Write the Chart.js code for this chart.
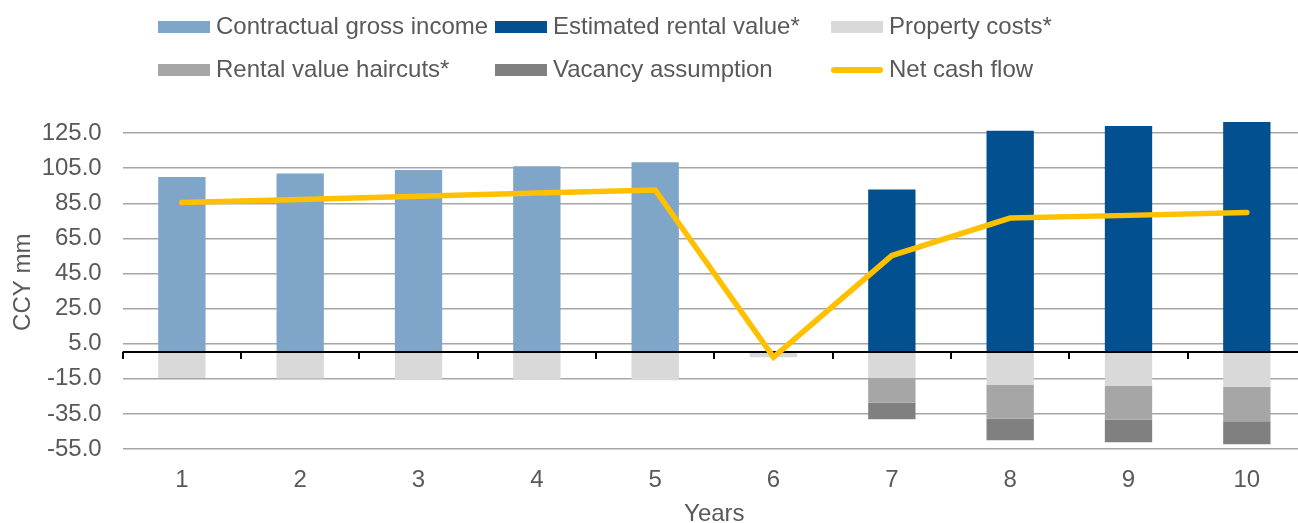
<!DOCTYPE html>
<html>
<head>
<meta charset="utf-8">
<script src="https://cdn.jsdelivr.net/npm/chart.js@4"></script>
<style>
  body { margin: 0; overflow: hidden; background: #fff; font-family: "Liberation Sans", Arial, sans-serif; }
  #wrap { position: absolute; left: 0; top: 0; width: 1306px; height: 523px; }
  #legend { position: absolute; left: 158px; top: 11px; display: grid;
            grid-template-columns: 337px 336px auto; grid-auto-rows: 43.5px; }
  .item { display: flex; align-items: center; height: 29px; font-size: 24px; color: #595959; white-space: nowrap; }
  .swatch { width: 52px; height: 12px; margin-right: 6px; margin-top: 2px; }
  .swatch.line { height: 5.5px; border-radius: 3px; }
</style>
</head>
<body>
<div id="wrap"><canvas id="chart"></canvas></div>
<div id="legend"></div>
<script>
const years = ['1', '2', '3', '4', '5', '6', '7', '8', '9', '10'];
const contractualGrossIncome = [100.0, 102.0, 104.0, 106.1, 108.3, null, null, null, null, null];
const estimatedRentalValue = [null, null, null, null, null, null, 92.8, 126.3, 129.0, 131.3];
const propertyCosts = [-14.6, -14.9, -15.2, -15.5, -15.8, -2.7, -14.6, -18.6, -19.0, -19.6];
const rentalValueHaircuts = [null, null, null, null, null, null, -13.9, -19.1, -19.4, -19.6];
const vacancyAssumption = [null, null, null, null, null, null, -9.5, -12.3, -12.8, -13.1];
const netCashFlow = [85.4, 87.2, 89.0, 90.8, 92.6, -2.7, 55.2, 76.6, 78.1, 79.7];
const yTicks = [-55, -35, -15, 5, 25, 45, 65, 85, 105, 125];

const textColor = '#595959';
const font = { family: '"Liberation Sans", Arial, sans-serif', size: 24 };

// black axis line at zero with tick marks between the years
const zeroAxis = {
  id: 'zeroAxis',
  beforeDatasetDraw(chart, args) {
    if (chart.data.datasets[args.index].type !== 'line') return;
    const { ctx, chartArea, scales: { x, y } } = chart;
    const y0 = Math.round(y.getPixelForValue(0));
    ctx.save();
    ctx.strokeStyle = '#000';
    ctx.lineWidth = 2;
    ctx.beginPath();
    ctx.moveTo(chartArea.left, y0);
    ctx.lineTo(chartArea.right, y0);
    for (let i = 0; i <= years.length; i++) {
      const xb = Math.round(x.getPixelForValue(i - 0.5));
      ctx.moveTo(xb, y0);
      ctx.lineTo(xb, y0 + 7);
    }
    ctx.stroke();
    ctx.restore();
  }
};

const bar = (label, data, color) => ({
  type: 'bar', label, data, backgroundColor: color, stack: 'a', order: 1,
  barPercentage: 0.4, categoryPercentage: 1
});

const chart = new Chart(document.getElementById('chart'), {
  type: 'bar',
  data: {
    labels: years,
    datasets: [
      bar('Contractual gross income', contractualGrossIncome, '#7FA6C9'),
      bar('Estimated rental value*', estimatedRentalValue, '#02508F'),
      bar('Property costs*', propertyCosts, '#D9D9D9'),
      bar('Rental value haircuts*', rentalValueHaircuts, '#A6A6A6'),
      bar('Vacancy assumption', vacancyAssumption, '#808080'),
      {
        type: 'line', label: 'Net cash flow', data: netCashFlow, stack: 'b', order: 0,
        borderColor: '#FFC000', backgroundColor: '#FFC000', borderWidth: 5.5,
        borderCapStyle: 'round', borderJoinStyle: 'miter', pointRadius: 0, tension: 0
      }
    ]
  },
  options: {
    responsive: true,
    maintainAspectRatio: false,
    animation: false,
    layout: { padding: { left: 11, top: 115.5, right: 0, bottom: 0 } },
    plugins: { legend: { display: false }, tooltip: { enabled: false } },
    scales: {
      x: {
        stacked: true,
        grid: { display: false, drawTicks: false },
        border: { display: false },
        ticks: { color: textColor, font, padding: 17 },
        title: { display: true, text: 'Years', color: textColor, font: { ...font, lineHeight: 1 }, padding: { top: 0, bottom: -3 } },
        afterFit: s => { s.height = 74; }
      },
      y: {
        stacked: true,
        min: -55,
        max: 135,
        afterBuildTicks: s => { s.ticks = yTicks.map(v => ({ value: v })); },
        grid: { color: '#A6A6A6', lineWidth: 1.5, drawTicks: false },
        border: { display: false },
        ticks: { color: textColor, font, padding: 21, callback: v => Number(v).toFixed(1) },
        title: { display: true, text: 'CCY mm', color: textColor, font: { ...font, lineHeight: 1 }, padding: { top: 0, bottom: 0 } },
        afterFit: s => { s.width = 111.7; }
      }
    }
  },
  plugins: [zeroAxis]
});

// legend in three columns, built from the chart's datasets
const legend = document.getElementById('legend');
chart.data.datasets.forEach(ds => {
  const item = document.createElement('div');
  item.className = 'item';
  const sw = document.createElement('span');
  sw.className = 'swatch' + (ds.type === 'line' ? ' line' : '');
  sw.style.background = ds.type === 'line' ? ds.borderColor : ds.backgroundColor;
  item.appendChild(sw);
  item.appendChild(document.createTextNode(ds.label));
  legend.appendChild(item);
});
</script>
</body>
</html>
